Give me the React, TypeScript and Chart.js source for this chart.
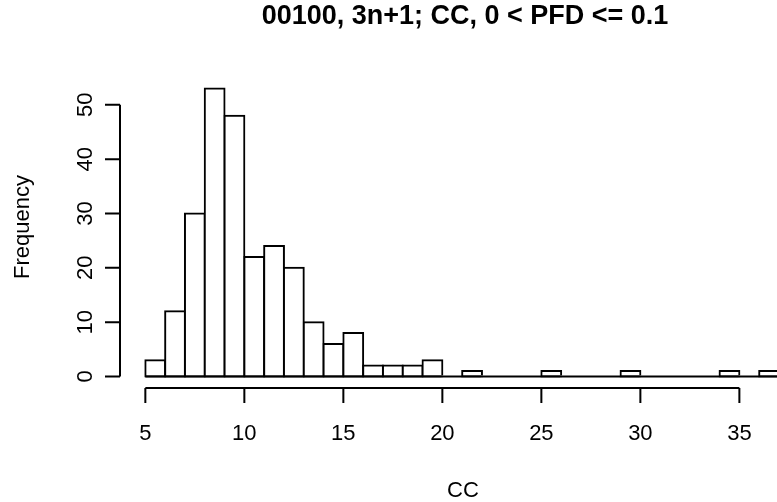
import React, { useEffect, useRef } from "react";
import { Chart, registerables } from "chart.js";

Chart.register(...registerables);

// Histogram bins (width 1), left edges, and counts
const binStarts: number[] = [5, 6, 7, 8, 9, 10, 11, 12, 13, 14, 15, 16, 17, 18, 19, 20, 21, 22, 23, 24, 25, 26, 27, 28, 29, 30, 31, 32, 33, 34, 35, 36];
const counts: number[] = [3, 12, 30, 53, 48, 22, 24, 20, 10, 6, 8, 2, 2, 2, 3, 0, 1, 0, 0, 0, 1, 0, 0, 0, 1, 0, 0, 0, 0, 1, 0, 1];
const xTicks: number[] = [5, 10, 15, 20, 25, 30, 35];
const yTicks: number[] = [0, 10, 20, 30, 40, 50];

const titleText = "00100, 3n+1; CC, 0 < PFD <= 0.1";
const xLabel = "CC";
const yLabel = "Frequency";

const FONT = '"Liberation Sans", Arial, Helvetica, sans-serif';

const baselinePlugin = {
  id: "histBaseline",
  afterDatasetsDraw(chart: any) {
    const ctx = chart.ctx as CanvasRenderingContext2D;
    const xs = chart.scales.x;
    const ys = chart.scales.y;
    const area = chart.chartArea;
    ctx.save();
    ctx.beginPath();
    ctx.rect(area.left, area.top, area.right - area.left, area.bottom - area.top);
    ctx.clip();
    ctx.strokeStyle = "#000";
    ctx.lineWidth = 2;
    const py = ys.getPixelForValue(0);
    ctx.beginPath();
    ctx.moveTo(xs.getPixelForValue(binStarts[0]), py);
    ctx.lineTo(xs.getPixelForValue(binStarts[binStarts.length - 1] + 1), py);
    ctx.stroke();
    ctx.restore();
  },
};

const rAxesPlugin = {
  id: "rAxes",
  afterDraw(chart: any) {
    const ctx = chart.ctx as CanvasRenderingContext2D;
    const xs = chart.scales.x;
    const ys = chart.scales.y;
    const area = chart.chartArea;
    ctx.save();
    ctx.strokeStyle = "#000";
    ctx.fillStyle = "#000";
    ctx.lineWidth = 2;

    // x axis
    const axY = area.bottom;
    const x0 = xs.getPixelForValue(xTicks[0]);
    const x1 = xs.getPixelForValue(xTicks[xTicks.length - 1]);
    ctx.beginPath();
    ctx.moveTo(x0, axY);
    ctx.lineTo(x1, axY);
    xTicks.forEach((t) => {
      const px = xs.getPixelForValue(t);
      ctx.moveTo(px, axY);
      ctx.lineTo(px, axY + 15);
    });
    ctx.stroke();
    ctx.font = `22px ${FONT}`;
    ctx.textAlign = "center";
    ctx.textBaseline = "alphabetic";
    xTicks.forEach((t) => {
      ctx.fillText(String(t), xs.getPixelForValue(t), 440);
    });

    // y axis
    const axX = area.left;
    const y0 = ys.getPixelForValue(yTicks[0]);
    const y1 = ys.getPixelForValue(yTicks[yTicks.length - 1]);
    ctx.beginPath();
    ctx.moveTo(axX, y0);
    ctx.lineTo(axX, y1);
    yTicks.forEach((t) => {
      const py = ys.getPixelForValue(t);
      ctx.moveTo(axX, py);
      ctx.lineTo(axX - 15, py);
    });
    ctx.stroke();
    yTicks.forEach((t) => {
      const py = ys.getPixelForValue(t);
      ctx.save();
      ctx.translate(92, py);
      ctx.rotate(-Math.PI / 2);
      ctx.fillText(String(t), 0, 0);
      ctx.restore();
    });

    // axis titles
    ctx.fillText(xLabel, 463, 497);
    ctx.save();
    ctx.translate(29, 227);
    ctx.rotate(-Math.PI / 2);
    ctx.fillText(yLabel, 0, 0);
    ctx.restore();

    // main title
    ctx.font = `bold 27px ${FONT}`;
    ctx.fillText(titleText, 465, 24);
    ctx.restore();
  },
};

export default function App() {
  const ref = useRef<HTMLCanvasElement | null>(null);
  useEffect(() => {
    if (!ref.current) return;
    const barData = binStarts.map((s, i) => ({ x: s + 0.5, y: counts[i] }));
    const chart = new Chart(ref.current, {
      type: "bar",
      data: {
        datasets: [
          {
            data: barData,
            backgroundColor: "#fff",
            borderColor: "#000",
            borderWidth: (c: any) => (c.raw && c.raw.y > 0 ? 2 : 0),
            borderSkipped: false,
            inflateAmount: 1,
            barPercentage: 1,
            categoryPercentage: 1,
          } as any,
        ],
      },
      options: {
        animation: false,
        responsive: false,
        devicePixelRatio: 1,
        layout: { padding: { left: 120, top: 77, right: 0, bottom: 114 } },
        scales: {
          x: { type: "linear", display: false, offset: false, min: 3.72, max: 36.9 },
          y: { type: "linear", display: false, min: -2.12, max: 55.12 },
        },
        plugins: {
          legend: { display: false },
          tooltip: { enabled: false },
          title: { display: false },
        },
      } as any,
      plugins: [baselinePlugin, rAxesPlugin],
    });
    return () => chart.destroy();
  }, []);
  return (
    <div style={{ position: "fixed", left: 0, top: 0, width: 777, height: 502, background: "#fff" }}>
      <canvas ref={ref} width={777} height={502} style={{ display: "block", width: 777, height: 502 }} />
    </div>
  );
}
